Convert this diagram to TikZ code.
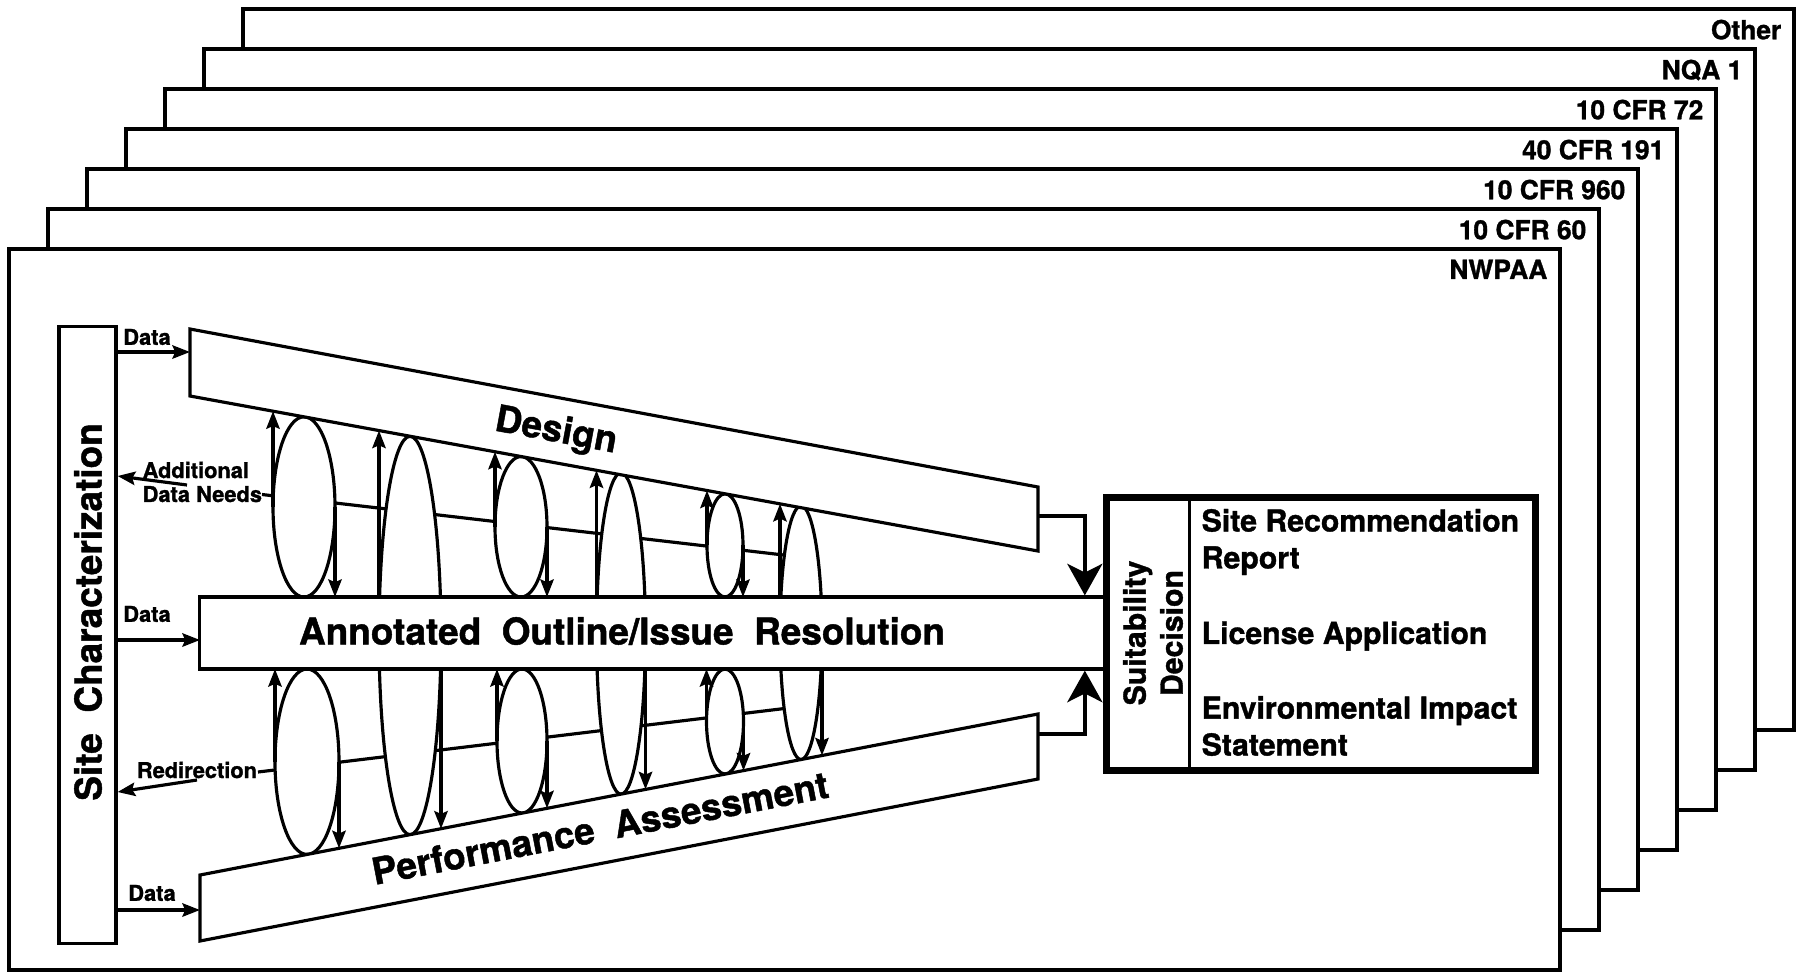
\documentclass[tikz,border=0pt]{standalone}
\usepackage{fontspec}
\setsansfont{TeX Gyre Heros}[BoldFeatures={FakeBold=1.2}]
\usetikzlibrary{arrows.meta, positioning, calc}

\begin{document}
\begin{tikzpicture}[
  x=0.01cm, y=-0.01cm,
  font=\sffamily\bfseries,
  sheet/.style={draw, fill=white, line width=1.3pt},
  sheetlabel/.style={anchor=north east, inner sep=0pt,
    font=\sffamily\bfseries\fontsize{7.5}{8}\selectfont},
  bar/.style={draw, fill=white, line width=0.9pt},
  ring/.style={draw, fill=white, line width=0.9pt},
  bigtext/.style={font=\sffamily\bfseries\fontsize{10.5}{12}\selectfont},
  midtext/.style={inner sep=0pt, font=\sffamily\bfseries\fontsize{8.6}{10.5}\selectfont},
  smalltext/.style={inner sep=0pt, font=\sffamily\bfseries\fontsize{6.2}{6.8}\selectfont},
  flow/.style={arrows={-Stealth[length=5pt, width=3.8pt, inset=0.8pt]}, line width=0.9pt},
  bigflow/.style={arrows={-Stealth[length=9pt, width=10pt, inset=2.5pt]}, line width=1pt}
]
\useasboundingbox (0,0) rectangle (1799,975);

% ----- stacked sheets, back to front -----
\foreach \i/\lab in {6/Other, 5/NQA 1, 4/10 CFR 72, 3/40 CFR 191, 2/10 CFR 960, 1/10 CFR 60, 0/NWPAA} {
  \draw[sheet] (9+39*\i, 249-40*\i) rectangle ++(1551, 721);
  \node[sheetlabel] (sheet\i) at (1548+39*\i, 259-40*\i) {\lab};
}

% ----- site characterization -----
\node[bar, minimum width=0.57cm, minimum height=6.16cm, inner sep=0pt] (site) at (87.5, 635) {};
\node[bigtext, rotate=90] (site-text) at (88, 612) {Site\ \ Characterization};

% ----- axis lines through the loops -----
\coordinate (needs-tick) at (262, 494.5);
\coordinate (redir-tick) at (258, 772);
\coordinate (axis-up-end) at (801, 557);
\coordinate (axis-lo-end) at (801, 706.5);
\draw[line width=0.9pt] (needs-tick) -- (axis-up-end);
\draw[line width=0.9pt] (redir-tick) -- (axis-lo-end);

% ----- loops -----
\foreach \cx/\cy/\rx/\ry in {304/506.9/31/90.1, 521/526.8/26/70.2, 725/545.4/18/51.6,
    307/761.7/32/92.7, 522/741/25/72, 725/721.5/18.5/52.5,
    410/635.5/31/199.2, 621/633.5/24.5/160.6, 801/632.7/21/126.8}
  \draw[ring] (\cx,\cy) ellipse [x radius=\rx, y radius=\ry];

% ----- bars -----
\draw[bar] (190,329) coordinate (dsg-tl) -- (1038,487) coordinate (dsg-tr)
  -- (1038,551) coordinate (dsg-br) -- (190,396) coordinate (dsg-bl) -- cycle;
\node[bigtext, rotate=-10.5] (dsg-text) at (556, 432) {Design};

\draw[bar] (200,875) coordinate (pa-tl) -- (1038,714) coordinate (pa-tr)
  -- (1038,779) coordinate (pa-br) -- (200,941) coordinate (pa-bl) -- cycle;
\node[bigtext, rotate=10.9] (pa-text) at (600, 828) {Performance\ \ Assessment};

\node[bar, minimum width=9.05cm, minimum height=0.72cm, inner sep=0pt] (ao) at (652.5, 633) {};
\node[bigtext] (ao-text) at (622, 631) {Annotated\ \ Outline/Issue\ \ Resolution};

% ----- up and down arrows of the loops -----
\foreach \xu/\yc/\yt/\xd/\yb in {273/506.9/411.2/335/597, 495/526.8/451.7/547/597,
    707/545.4/490.5/743/597, 275/761.7/669/339/848.3, 497/741/669/547/808.3,
    706.5/721.5/669/743.5/770.6} {
  \draw[flow] (\xu,\yc) -- (\xu,\yt);
  \draw[flow] (\xd,\yc) -- (\xd,\yb);
}
\foreach \xu/\yt/\xd/\yb in {379/430.5/441/828.7, 596.5/470.3/645.5/789.4, 780/503.8/822/755.5} {
  \draw[flow] (\xu,597) -- (\xu,\yt);
  \draw[flow] (\xd,669) -- (\xd,\yb);
}

% ----- suitability decision -----
\node[draw, fill=white, line width=1.3pt, minimum width=4.32cm, minimum height=2.76cm,
  inner sep=0pt] (suit) at (1321, 634) {};
\draw[line width=0.9pt] ([shift={(6,6)}]suit.north west) rectangle ([shift={(-6,-6)}]suit.south east);
\draw[line width=1pt] ($(suit.north west)+(87,6)$) -- ($(suit.south west)+(87,-6)$);
\node[midtext, rotate=90, align=center] (suit-dec) at (1153, 633) {Suitability\\Decision};
\node[midtext, align=left, anchor=west] (srr) at (1201, 542) {Site Recommendation\\Report};
\node[midtext, anchor=west] (la) at (1201, 636) {License Application};
\node[midtext, align=left, anchor=west] (eis) at (1201, 726) {Environmental Impact\\Statement};

\coordinate (dsg-out) at (1038, 516);
\coordinate (pa-out) at (1038, 734);
\draw[bigflow] (dsg-out) -| ($(ao.north east)+(-22,0)$);
\draw[bigflow] (pa-out) -| ($(ao.south east)+(-22,0)$);

% ----- data and feedback -----
\coordinate (dsg-in) at (190, 352);
\coordinate (ao-in) at (200, 640);
\coordinate (pa-in) at (200, 910);
\draw[flow] (site.east |- dsg-in) -- (dsg-in);
\draw[flow] (site.east |- ao-in) -- (ao-in);
\draw[flow] (site.east |- pa-in) -- (pa-in);
\node[smalltext] (data-dsg) at (147, 337) {Data};
\node[smalltext] (data-ao) at (147, 614) {Data};
\node[smalltext] (data-pa) at (152, 893) {Data};

\node[smalltext, align=left, anchor=west] (needs) at (142, 482) {Additional\\Data Needs};
\coordinate (needs-from) at (187, 485);
\draw[flow] (needs-from) -- ($(site.east)+(0,-159)$);

\node[smalltext] (redir) at (197, 770) {Redirection};
\coordinate (redir-from) at (197, 780);
\draw[flow] (redir-from) -- ($(site.east)+(0,157)$);

\end{tikzpicture}
\end{document}
